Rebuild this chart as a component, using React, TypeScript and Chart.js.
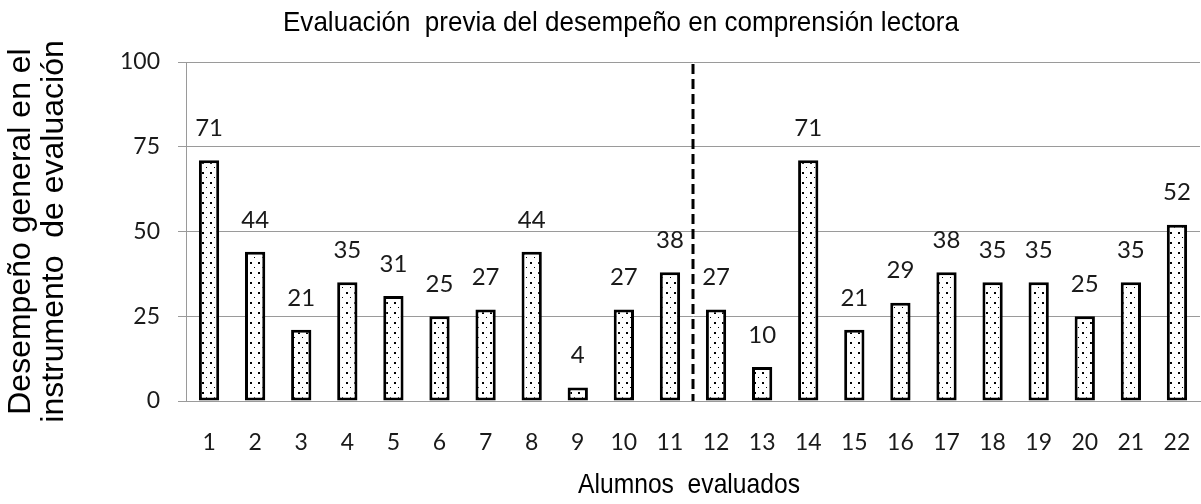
import React, { useEffect, useRef } from "react";
import { Chart, registerables } from "chart.js";

Chart.register(...registerables);

const categories = ["1","2","3","4","5","6","7","8","9","10","11","12","13","14","15","16","17","18","19","20","21","22"];
const scores = [71,44,21,35,31,25,27,44,4,27,38,27,10,71,21,29,38,35,35,25,35,52];
const yTicks = [0, 25, 50, 75, 100];
const dividerAfter = 11; // dashed line between student 11 and 12
const chartTitle = "Evaluación  previa del desempeño en comprensión lectora";
const yTitle = ["Desempeño general en el", "instrumento  de evaluación"];
const xTitle = "Alumnos  evaluados";

const SANS = "'Liberation Sans', Arial, sans-serif";
const NUM = "Lato, 'Open Sans', sans-serif";

function makePattern(): CanvasPattern | string {
  const c = document.createElement("canvas");
  c.width = 8;
  c.height = 10;
  const g = c.getContext("2d");
  if (!g) return "#fff";
  g.fillStyle = "#ffffff";
  g.fillRect(0, 0, 8, 10);
  g.fillStyle = "#000000";
  g.fillRect(2, 2, 2, 2);
  g.fillRect(6, 7, 1, 1);
  const p = g.createPattern(c, "repeat");
  return p || "#fff";
}

function narrowText(ctx: CanvasRenderingContext2D, text: string, x: number, y: number, size: number, sx: number) {
  ctx.save();
  ctx.fillStyle = "#000";
  ctx.font = `${size}px ${SANS}`;
  ctx.textAlign = "center";
  ctx.textBaseline = "middle";
  ctx.translate(x, y);
  ctx.scale(sx, 1);
  ctx.fillText(text, 0, 0);
  ctx.restore();
}

export default function App() {
  const ref = useRef<HTMLCanvasElement | null>(null);
  useEffect(() => {
    if (!ref.current) return;
    const pattern = makePattern();

    const extras = {
      id: "extras",
      afterDatasetsDraw(chart: any) {
        const { ctx, chartArea, scales } = chart;
        const xs = scales.x;
        // dashed divider
        const xd = (xs.getPixelForValue(dividerAfter - 1) + xs.getPixelForValue(dividerAfter)) / 2;
        ctx.save();
        ctx.strokeStyle = "#000";
        ctx.lineWidth = 3;
        ctx.setLineDash([10, 5]);
        ctx.beginPath();
        ctx.moveTo(xd, chartArea.top + 2);
        ctx.lineTo(xd, chartArea.bottom);
        ctx.stroke();
        ctx.restore();
        // data labels
        const meta = chart.getDatasetMeta(0);
        ctx.save();
        ctx.fillStyle = "#1a1a1a";
        ctx.font = `24px ${NUM}`;
        ctx.textAlign = "center";
        ctx.textBaseline = "middle";
        meta.data.forEach((el: any, i: number) => {
          ctx.fillText(String(scores[i]), el.x, el.y - 32);
        });
        ctx.restore();
        // titles
        narrowText(ctx, chartTitle, 621, 23, 28, 0.93);
        narrowText(ctx, xTitle, (chartArea.left + chartArea.right) / 2 - 4, 485, 28, 0.88);
      },
    };

    const chart = new Chart(ref.current, {
      type: "bar",
      data: {
        labels: categories,
        datasets: [
          {
            data: scores,
            backgroundColor: pattern as any,
            borderColor: "#000",
            borderWidth: 3,
            borderSkipped: false,
            barPercentage: 0.44,
            categoryPercentage: 1,
          },
        ],
      },
      options: {
        responsive: false,
        animation: false,
        layout: { padding: { top: 62, right: 1, left: 0, bottom: 0 } },
        plugins: { legend: { display: false }, tooltip: { enabled: false }, title: { display: false } },
        scales: {
          x: {
            grid: { display: false, drawTicks: false },
            border: { display: true, color: "#9a9a9a", width: 1 },
            ticks: { color: "#1a1a1a", font: { family: NUM, size: 23 }, padding: 28, maxRotation: 0, autoSkip: false },
            title: { display: false },
            afterFit(scale: any) {
              scale.height = 103;
              scale.paddingLeft = 0;
              scale.paddingRight = 0;
            },
          },
          y: {
            min: 0,
            max: 100,
            afterBuildTicks(scale: any) { scale.ticks = yTicks.map((v) => ({ value: v })); },
            grid: { color: "#9a9a9a", lineWidth: 1, tickLength: 8, tickColor: "#9a9a9a" },
            border: { display: true, color: "#9a9a9a", width: 1 },
            ticks: { color: "#1a1a1a", font: { family: NUM, size: 23 }, padding: 18 },
            title: { display: true, text: yTitle, color: "#000", font: { family: SANS, size: 32, lineHeight: 1.03 }, padding: { top: 5, bottom: 0 } },
            afterFit(scale: any) {
              scale.width = 186;
              scale.paddingTop = 0;
              scale.paddingBottom = 0;
            },
          },
        },
      },
      plugins: [extras],
    });
    return () => chart.destroy();
  }, []);
  return (
    <div style={{ position: "absolute", left: 0, top: 0, width: 1201, height: 504, background: "#fff" }}>
      <canvas ref={ref} width={1201} height={504} style={{ width: 1201, height: 504, display: "block" }} />
    </div>
  );
}
